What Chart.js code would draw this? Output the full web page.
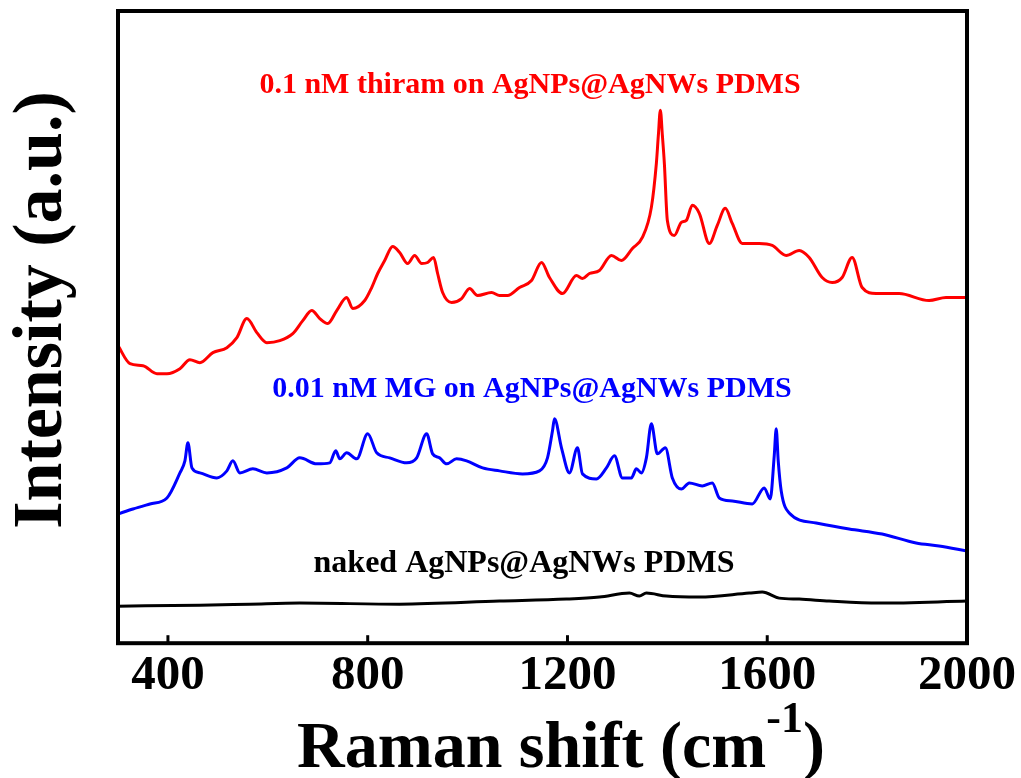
<!DOCTYPE html>
<html>
<head>
<meta charset="utf-8">
<script src="https://cdn.jsdelivr.net/npm/chart.js@4/dist/chart.umd.min.js"></script>
<style>
  html, body { margin: 0; padding: 0; background: #fff; }
</style>
</head>
<body>
<canvas id="ramanChart" width="1021" height="778"></canvas>
<script>
// Raman shift (cm-1) and intensity (a.u., offset per curve)
const thiramShift = [300, 324, 350, 378, 398, 424, 444, 464, 490, 518, 538, 558, 578, 598, 624, 650, 670, 688, 704, 720,
    738, 758, 770, 794, 808, 820, 834, 850, 864, 880, 894, 908, 920, 932, 940, 950, 968, 988, 1004, 1020,
    1048, 1064, 1080, 1104, 1128, 1148, 1164, 1190, 1218, 1230, 1244, 1264, 1288, 1308, 1330, 1350, 1368, 1378, 1382, 1386,
    1390, 1394, 1400, 1414, 1428, 1438, 1450, 1464, 1484, 1500, 1516, 1530, 1550, 1584, 1610, 1638, 1664, 1684, 1710, 1730,
    1750, 1770, 1790, 1818, 1864, 1924, 1958, 2000];
const thiramIntensity = [297, 279, 277, 269, 269, 274, 283, 280, 290, 295, 305, 324, 310, 300, 302, 309, 322, 332, 324, 319,
    332, 345, 334, 342, 355, 369, 382, 396, 390, 379, 387, 379, 380, 385, 369, 350, 340, 344, 354, 347,
    350, 347, 347, 355, 362, 380, 365, 349, 367, 364, 369, 372, 387, 382, 394, 405, 435, 479, 507, 532,
    507, 479, 422, 407, 420, 422, 437, 429, 399, 417, 434, 419, 399, 399, 397, 387, 392, 385, 365, 360,
    365, 385, 355, 349, 349, 342, 345, 345];

const mgShift = [300, 330, 364, 398, 424, 434, 440, 448, 464, 498, 518, 530, 544, 570, 598, 638, 664, 698, 724, 736,
    744, 758, 778, 800, 818, 844, 878, 898, 918, 930, 944, 958, 978, 998, 1030, 1064, 1110, 1144, 1160, 1170,
    1174, 1188, 1204, 1220, 1230, 1258, 1278, 1294, 1310, 1328, 1338, 1348, 1358, 1368, 1380, 1396, 1410, 1428, 1444, 1470,
    1490, 1504, 1530, 1570, 1594, 1606, 1614, 1618, 1622, 1628, 1644, 1698, 1764, 1830, 1898, 1944, 2000];
const mgIntensity = [129, 134, 139, 145, 170, 182, 200, 175, 170, 165, 172, 182, 170, 174, 170, 175, 185, 179, 180, 192,
    184, 190, 184, 209, 190, 185, 180, 185, 209, 189, 185, 179, 184, 182, 175, 172, 169, 172, 185, 212,
    224, 195, 170, 195, 169, 164, 175, 187, 165, 165, 174, 170, 185, 219, 189, 195, 165, 154, 160, 157,
    160, 145, 142, 139, 155, 144, 187, 214, 182, 152, 130, 120, 114, 109, 100, 97, 92];

const nakedShift = [300, 464, 564, 664, 864, 1064, 1198, 1264, 1324, 1344, 1358, 1398, 1464, 1564, 1590, 1624, 1664, 1724, 1824, 2000];
const nakedIntensity = [37, 38, 39, 40, 39, 42, 44, 46, 50, 47, 50, 47, 46, 50, 51, 45, 44, 42, 40, 42];

const xTicks = [400, 800, 1200, 1600, 2000];

const seriesLabels = ['0.1 nM thiram on AgNPs@AgNWs PDMS', '0.01 nM MG on AgNPs@AgNWs PDMS', 'naked AgNPs@AgNWs PDMS'];
const seriesColors = ['#ff0000', '#0000ff', '#000000'];

const FONT = '"Liberation Serif", "Times New Roman", serif';

function toPoints(xs, ys) {
    return xs.map((x, i) => ({ x, y: ys[i] }));
}

// frame, tick marks, in-plot labels and axis titles
const decorPlugin = {
    id: 'decor',
    afterDraw(chart) {
        const { ctx, chartArea: a, scales } = chart;
        ctx.save();
        ctx.strokeStyle = '#000';
        ctx.lineWidth = 4;
        ctx.strokeRect(a.left, a.top, a.right - a.left, a.bottom - a.top);

        ctx.lineWidth = 3;
        xTicks.forEach(v => {
            const px = scales.x.getPixelForValue(v);
            ctx.beginPath();
            ctx.moveTo(px, a.bottom);
            ctx.lineTo(px, a.bottom - 8);
            ctx.stroke();
        });

        // series annotations
        ctx.textAlign = 'center';
        ctx.textBaseline = 'alphabetic';
        const labelPos = [[530, 93, 30], [532, 397, 30], [524, 572, 32]];
        seriesLabels.forEach((t, i) => {
            ctx.font = 'bold ' + labelPos[i][2] + 'px ' + FONT;
            ctx.fillStyle = seriesColors[i];
            ctx.fillText(t, labelPos[i][0], labelPos[i][1]);
        });

        // x title with superscript
        ctx.fillStyle = '#000';
        ctx.textAlign = 'left';
        ctx.font = 'bold 66px ' + FONT;
        let x = 297;
        const base = 767;
        ctx.fillText('Raman shift (cm', x, base);
        x += ctx.measureText('Raman shift (cm').width;
        ctx.font = 'bold 44px ' + FONT;
        ctx.fillText('-1', x, 732);
        x += ctx.measureText('-1').width;
        ctx.font = 'bold 66px ' + FONT;
        ctx.fillText(')', x, base);

        // y title
        ctx.translate(61, 310);
        ctx.rotate(-Math.PI / 2);
        ctx.textAlign = 'center';
        ctx.font = 'bold 70px ' + FONT;
        ctx.fillText('Intensity (a.u.)', 0, 0);
        ctx.restore();
    }
};

new Chart(document.getElementById('ramanChart'), {
    type: 'line',
    data: {
        datasets: [
            { label: seriesLabels[0], data: toPoints(thiramShift, thiramIntensity), borderColor: seriesColors[0] },
            { label: seriesLabels[1], data: toPoints(mgShift, mgIntensity), borderColor: seriesColors[1] },
            { label: seriesLabels[2], data: toPoints(nakedShift, nakedIntensity), borderColor: seriesColors[2] }
        ]
    },
    options: {
        responsive: false,
        animation: false,
        devicePixelRatio: 1,
        layout: { padding: { left: 118, right: 54, top: 11, bottom: 68 } },
        elements: {
            point: { radius: 0 },
            line: { borderWidth: 3, cubicInterpolationMode: 'monotone', fill: false }
        },
        plugins: { legend: { display: false }, tooltip: { enabled: false } },
        scales: {
            x: {
                type: 'linear',
                min: 300,
                max: 2000,
                afterBuildTicks: scale => { scale.ticks = xTicks.map(v => ({ value: v })); },
                grid: { display: false, drawTicks: false },
                border: { display: false },
                ticks: {
                    color: '#000',
                    padding: 4,
                    font: { family: FONT, size: 49, weight: 'bold' },
                    callback: v => String(v)
                }
            },
            y: { min: 0, max: 631, display: false }
        }
    },
    plugins: [decorPlugin]
});
</script>
</body>
</html>
